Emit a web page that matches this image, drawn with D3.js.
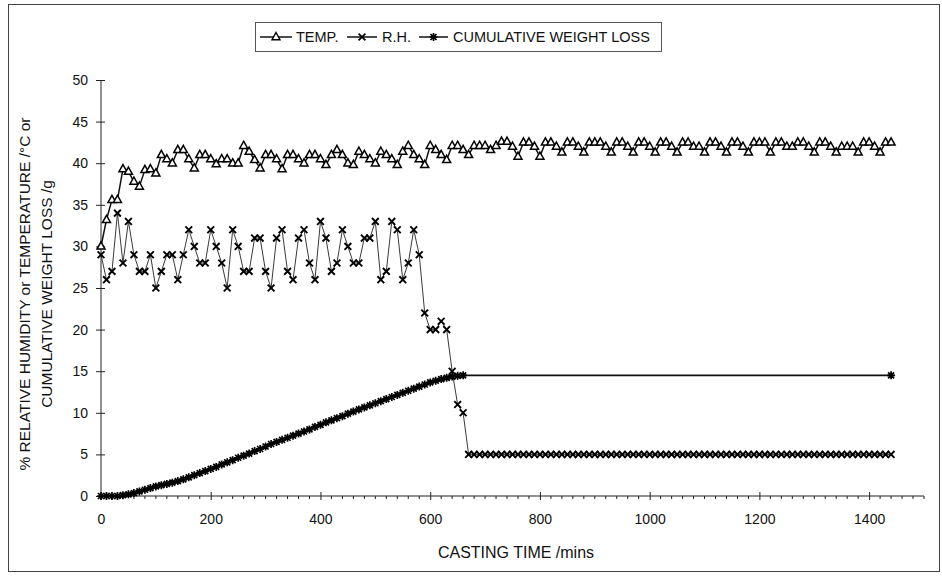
<!DOCTYPE html>
<html><head><meta charset="utf-8">
<script src="https://cdn.jsdelivr.net/npm/d3@7"></script>
<style>
body{margin:0;background:#fff}
text{font-family:"Liberation Sans",Arial,sans-serif;fill:#111}
</style>
</head><body>
<svg id="c" width="942" height="576"></svg>
<script>
// ---- data ----
const xTickValues = [0, 200, 400, 600, 800, 1000, 1200, 1400];
const yTickValues = [0, 5, 10, 15, 20, 25, 30, 35, 40, 45, 50];
const sampleStepMins = 10; // readings every 10 minutes, first at 0
const tempValues = [
 30,33.2,35.6,35.6,39.3,39,37.8,37.2,39.2,39.3,38.8,41,40.5,40,41.6,41.6,40.5,39.4,41,41,
 40.5,39.9,40.5,40.5,40,40,42.1,41.4,40.4,39.4,41,41,40.5,39.3,41,41,40.5,40,41,41,
 40.5,39.8,41,41.6,41,40,39.8,41.4,41,40.5,40,41.4,41,40.5,39.8,41.4,42.1,41,40.5,39.8,
 42.1,41.6,41,40.4,42.1,42.1,41.6,41,42.1,42.1,42.1,41.6,42.1,42.6,42.6,42,40.8,
 42.5,42.5,42,40.8,42.5,42.5,42,41.3,42.5,42.5,42,41.3,42.5,42.5,42.5,42,41.3,42.5,42.5,42,
 41.3,42.5,42.5,42,41.3,42.5,42.5,42,41.3,42.5,42.5,42,42,
 41.3,42.5,42.5,42,41.3,42.5,42.5,42,41.3,42.5,42.5,42.5,41.3,42.5,42.5,42,42,42.5,42.5,42,
 41.3,42.5,42.5,42,41.3,42,42,42,41.3,42.5,42.5,42,41.3,42.5,42.5
];
const rhValues = [
 29,26,27,34,28,33,29,27,27,29,25,27,29,29,26,29,32,30,28,28,
 32,30,28,25,32,30,27,27,31,31,27,25,31,32,27,26,31,32,28,26,
 33,31,27,28,32,30,28,28,31,31,33,26,27,33,32,26,28,32,29,22,
 20,20,21,20,15,11,10,
 5,5,5,5,5,5,5,5,5,5,5,5,5,5,5,5,5,5,5,5,5,5,5,5,5,5,5,5,5,5,5,5,5,5,5,5,5,5,5,
 5,5,5,5,5,5,5,5,5,5,5,5,5,5,5,5,5,5,5,5,5,5,5,5,5,5,5,5,5,5,5,5,5,5,5,5,5,5,5
];
const weightValues = [
 0,0,0,0,0.1,0.2,0.35,0.55,0.75,0.95,1.15,1.3,1.45,1.6,1.8,2.0,2.25,2.5,2.75,3.0,
 3.25,3.5,3.8,4.05,4.3,4.6,4.85,5.1,5.4,5.65,5.95,6.25,6.5,6.75,7.0,7.25,7.5,7.75,8.0,8.3,
 8.55,8.85,9.1,9.35,9.6,9.9,10.15,10.4,10.65,10.9,11.15,11.4,11.65,11.9,12.15,12.4,12.65,12.9,13.15,13.4,
 13.65,13.85,14.05,14.2,14.35,14.45,14.5
];
const weightFinalTime = 1440, weightFinalValue = 14.5;
const seriesNames = ["TEMP.", "R.H.", "CUMULATIVE WEIGHT LOSS"];

// ---- drawing ----
const svg = d3.select("#c");
const x = d3.scaleLinear().domain([0, 1500]).range([101, 924]);
const y = d3.scaleLinear().domain([0, 50]).range([496, 80]);

// outer frame
svg.append("rect").attr("x", 8.5).attr("y", 4.5).attr("width", 931).attr("height", 567)
  .attr("fill", "none").attr("stroke", "#444").attr("stroke-width", 1);

const toPts = (vals) => vals.map((v, i) => ({t: i * sampleStepMins, v}));
const tempPts = toPts(tempValues);
const rhPts = toPts(rhValues);
const wPts = toPts(weightValues);
const wAll = wPts.concat([{t: weightFinalTime, v: weightFinalValue}]);

// axes
const gx = svg.append("g").attr("transform", "translate(0,496)")
  .call(d3.axisBottom(x).tickValues(xTickValues).tickSize(4).tickFormat(d3.format("d")));
gx.select(".domain").attr("stroke", "#222").attr("d", "M101,0H924");
gx.selectAll(".tick line").attr("y1", -4).attr("y2", 4).attr("stroke", "#222");
gx.selectAll(".tick text").attr("y", 18).attr("font-size", 14)
  .attr("font-family", '"Liberation Sans",Arial,sans-serif').attr("fill", "#111");
const minor = d3.range(0, 1501, 20).filter(d => d % 200 !== 0);
gx.selectAll(".minor").data(minor).join("line").attr("class", "minor")
  .attr("x1", d => x(d)).attr("x2", d => x(d)).attr("y1", 0).attr("y2", 3).attr("stroke", "#222");

const gy = svg.append("g").attr("transform", "translate(101,0)")
  .call(d3.axisLeft(y).tickValues(yTickValues).tickSize(5));
gy.select(".domain").attr("stroke", "#222").attr("d", "M0,496V80");
gy.selectAll(".tick line").attr("x1", -5).attr("x2", 4).attr("stroke", "#222");
gy.selectAll(".tick text").attr("x", -13).attr("font-size", 14)
  .attr("font-family", '"Liberation Sans",Arial,sans-serif').attr("fill", "#111");

// axis titles
svg.append("text").attr("x", 516).attr("y", 558).attr("text-anchor", "middle")
  .attr("font-size", 16).text("CASTING TIME /mins");
const yt = svg.append("text").attr("transform", "translate(30,294) rotate(-90)")
  .attr("text-anchor", "middle").attr("font-size", 15.5);
yt.append("tspan").attr("x", 0).attr("dy", 0).text("% RELATIVE HUMIDITY or TEMPERATURE /°C or");
yt.append("tspan").attr("x", 0).attr("dy", 22).text("CUMULATIVE WEIGHT LOSS /g");

// marker generators
const triPath = "M0,-4.5L4,2.7L-4,2.7Z";
const xPath = "M-3.4,-3.4L3.4,3.4M-3.4,3.4L3.4,-3.4";
const starPath = "M-4,0H4M0,-4V4M-3,-3L3,3M-3,3L3,-3";

const line = d3.line().x(d => x(d.t)).y(d => y(d.v));

// R.H.
svg.append("path").datum(rhPts).attr("d", line).attr("fill", "none").attr("stroke", "#222").attr("stroke-width", 0.9);
svg.append("g").selectAll("path").data(rhPts).join("path")
  .attr("transform", d => `translate(${x(d.t)},${y(d.v)})`).attr("d", xPath)
  .attr("stroke", "#000").attr("stroke-width", 1.9).attr("fill", "none");

// weight loss
svg.append("path").datum(wAll).attr("d", line).attr("fill", "none").attr("stroke", "#111").attr("stroke-width", 1.7);
svg.append("g").selectAll("path").data(wAll).join("path")
  .attr("transform", d => `translate(${x(d.t)},${y(d.v)})`).attr("d", starPath)
  .attr("stroke", "#000").attr("stroke-width", 1.7).attr("fill", "none");

// temperature
svg.append("path").datum(tempPts).attr("d", line).attr("fill", "none").attr("stroke", "#111").attr("stroke-width", 1.5);
svg.append("g").selectAll("path").data(tempPts).join("path")
  .attr("transform", d => `translate(${x(d.t)},${y(d.v)})`).attr("d", triPath)
  .attr("stroke", "#000").attr("stroke-width", 1.5).attr("fill", "#fff");

// legend
const lg = svg.append("g");
lg.append("rect").attr("x", 255.5).attr("y", 22.5).attr("width", 406).attr("height", 29)
  .attr("fill", "#fff").attr("stroke", "#555");
const legendItems = [
  {name: seriesNames[0], x0: 260, x1: 292, tx: 296, mk: triPath, fill: "#fff", sw: 1.4},
  {name: seriesNames[1], x0: 347, x1: 377, tx: 382, mk: xPath, fill: "none", sw: 1.7},
  {name: seriesNames[2], x0: 419, x1: 448, tx: 453, mk: starPath, fill: "none", sw: 1.7}
];
legendItems.forEach(it => {
  lg.append("line").attr("x1", it.x0).attr("x2", it.x1).attr("y1", 37).attr("y2", 37)
    .attr("stroke", "#111").attr("stroke-width", 1.5);
  lg.append("path").attr("transform", `translate(${(it.x0 + it.x1) / 2},37)`).attr("d", it.mk)
    .attr("stroke", "#000").attr("stroke-width", it.sw).attr("fill", it.fill);
  lg.append("text").attr("x", it.tx).attr("y", 42).attr("font-size", 14.5).text(it.name);
});
</script>
</body></html>
